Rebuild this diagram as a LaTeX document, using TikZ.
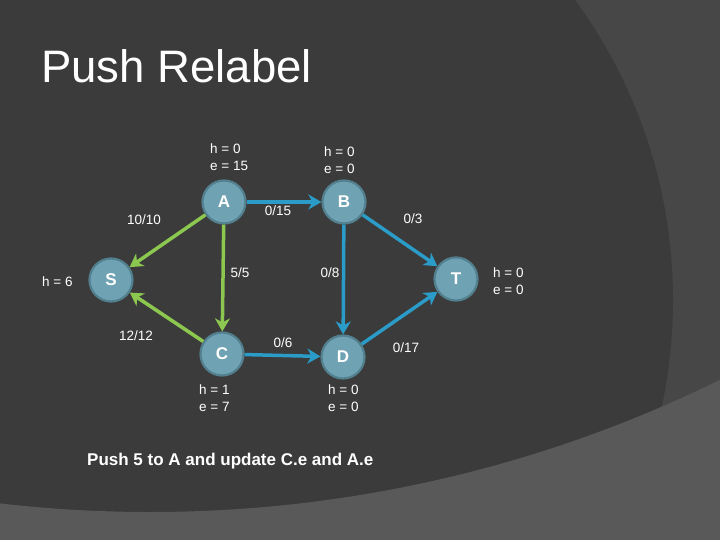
\documentclass[tikz,border=0pt]{standalone}
\usepackage{fontspec}
\setmainfont{Liberation Sans}
\usetikzlibrary{arrows.meta}
\definecolor{bgdark}{HTML}{3B3B3B}
\definecolor{bgmid}{HTML}{474747}
\definecolor{bglight}{HTML}{595959}
\definecolor{nodefill}{HTML}{6FA2B3}
\definecolor{nodeedge}{HTML}{52808F}
\definecolor{flowgreen}{HTML}{8CC84F}
\definecolor{flowblue}{HTML}{2B9BC7}
\begin{document}
\begin{tikzpicture}[x=1pt,y=-1pt,
  vertex/.style={circle, fill=nodefill, draw=nodeedge, line width=2.2pt,
    minimum size=43pt, inner sep=0pt, text=white,
    font=\fontsize{17}{20}\selectfont\bfseries},
  info/.style={text=white, font=\fontsize{13.5}{17}\selectfont, align=left,
    inner sep=0pt, anchor=west},
  flowlab/.style={text=white, font=\fontsize{13.5}{16}\selectfont, inner sep=0pt},
  flowedge/.style={line width=3.5pt,
    -{Stealth[length=13pt,width=15pt,inset=4pt]}},
  gflow/.style={flowedge, draw=flowgreen, color=flowgreen},
  bflow/.style={flowedge, draw=flowblue, color=flowblue}]
\useasboundingbox (0,0) rectangle (720,540);
% background
\begin{scope}
  \clip (0,0) rectangle (720,540);
  \fill[bgmid] (0,0) rectangle (720,540);
  \fill[bgdark] (165,300) circle (508);
  \fill[bglight, even odd rule] (-10,-10) rectangle (730,550) (150,-780) circle (1292);
\end{scope}
% title
\node[anchor=base west, inner sep=0pt, text=white,
  font=\fontsize{45.5}{50}\selectfont] (title) at (41,83) {Push Relabel};
% vertices
\node[vertex] (S) at (111,280) {S};
\node[vertex] (A) at (224,202) {A};
\node[vertex] (B) at (344,202) {B};
\node[vertex] (C) at (222,354) {C};
\node[vertex] (D) at (343,357) {D};
\node[vertex] (T) at (456,279) {T};
% vertex info
\node[info] (Ainfo) at (210,157) {h = 0\\e = 15};
\node[info] (Binfo) at (324,160.5) {h = 0\\e = 0};
\node[info] (Cinfo) at (199,398.5) {h = 1\\e = 7};
\node[info] (Dinfo) at (328,398.5) {h = 0\\e = 0};
\node[info] (Tinfo) at (493,281.5) {h = 0\\e = 0};
\node[info] (Sinfo) at (42,282) {h = 6};
% edges
\draw[gflow] (A) -- (S);
\draw[gflow] (A) -- (C);
\draw[gflow] (C) -- (S);
\draw[bflow] (A) -- (B);
\draw[bflow] (B) -- (T);
\draw[bflow] (B) -- (D);
\draw[bflow] (C) -- (D);
\draw[bflow] (D) -- (T);
% edge labels
\node[flowlab] (l1) at (144,220) {10/10};
\node[flowlab] (l2) at (240,273) {5/5};
\node[flowlab] (l3) at (136,336) {12/12};
\node[flowlab] (l4) at (278,211) {0/15};
\node[flowlab] (l5) at (413,219) {0/3};
\node[flowlab] (l6) at (330,273) {0/8};
\node[flowlab] (l7) at (406,348) {0/17};
\node[flowlab] (l8) at (283,343) {0/6};
% caption
\node[anchor=base west, inner sep=0pt, text=white,
  font=\fontsize{17}{20}\selectfont\bfseries] (caption) at (87,465)
  {Push 5 to A and update C.e and A.e};
\end{tikzpicture}
\end{document}
